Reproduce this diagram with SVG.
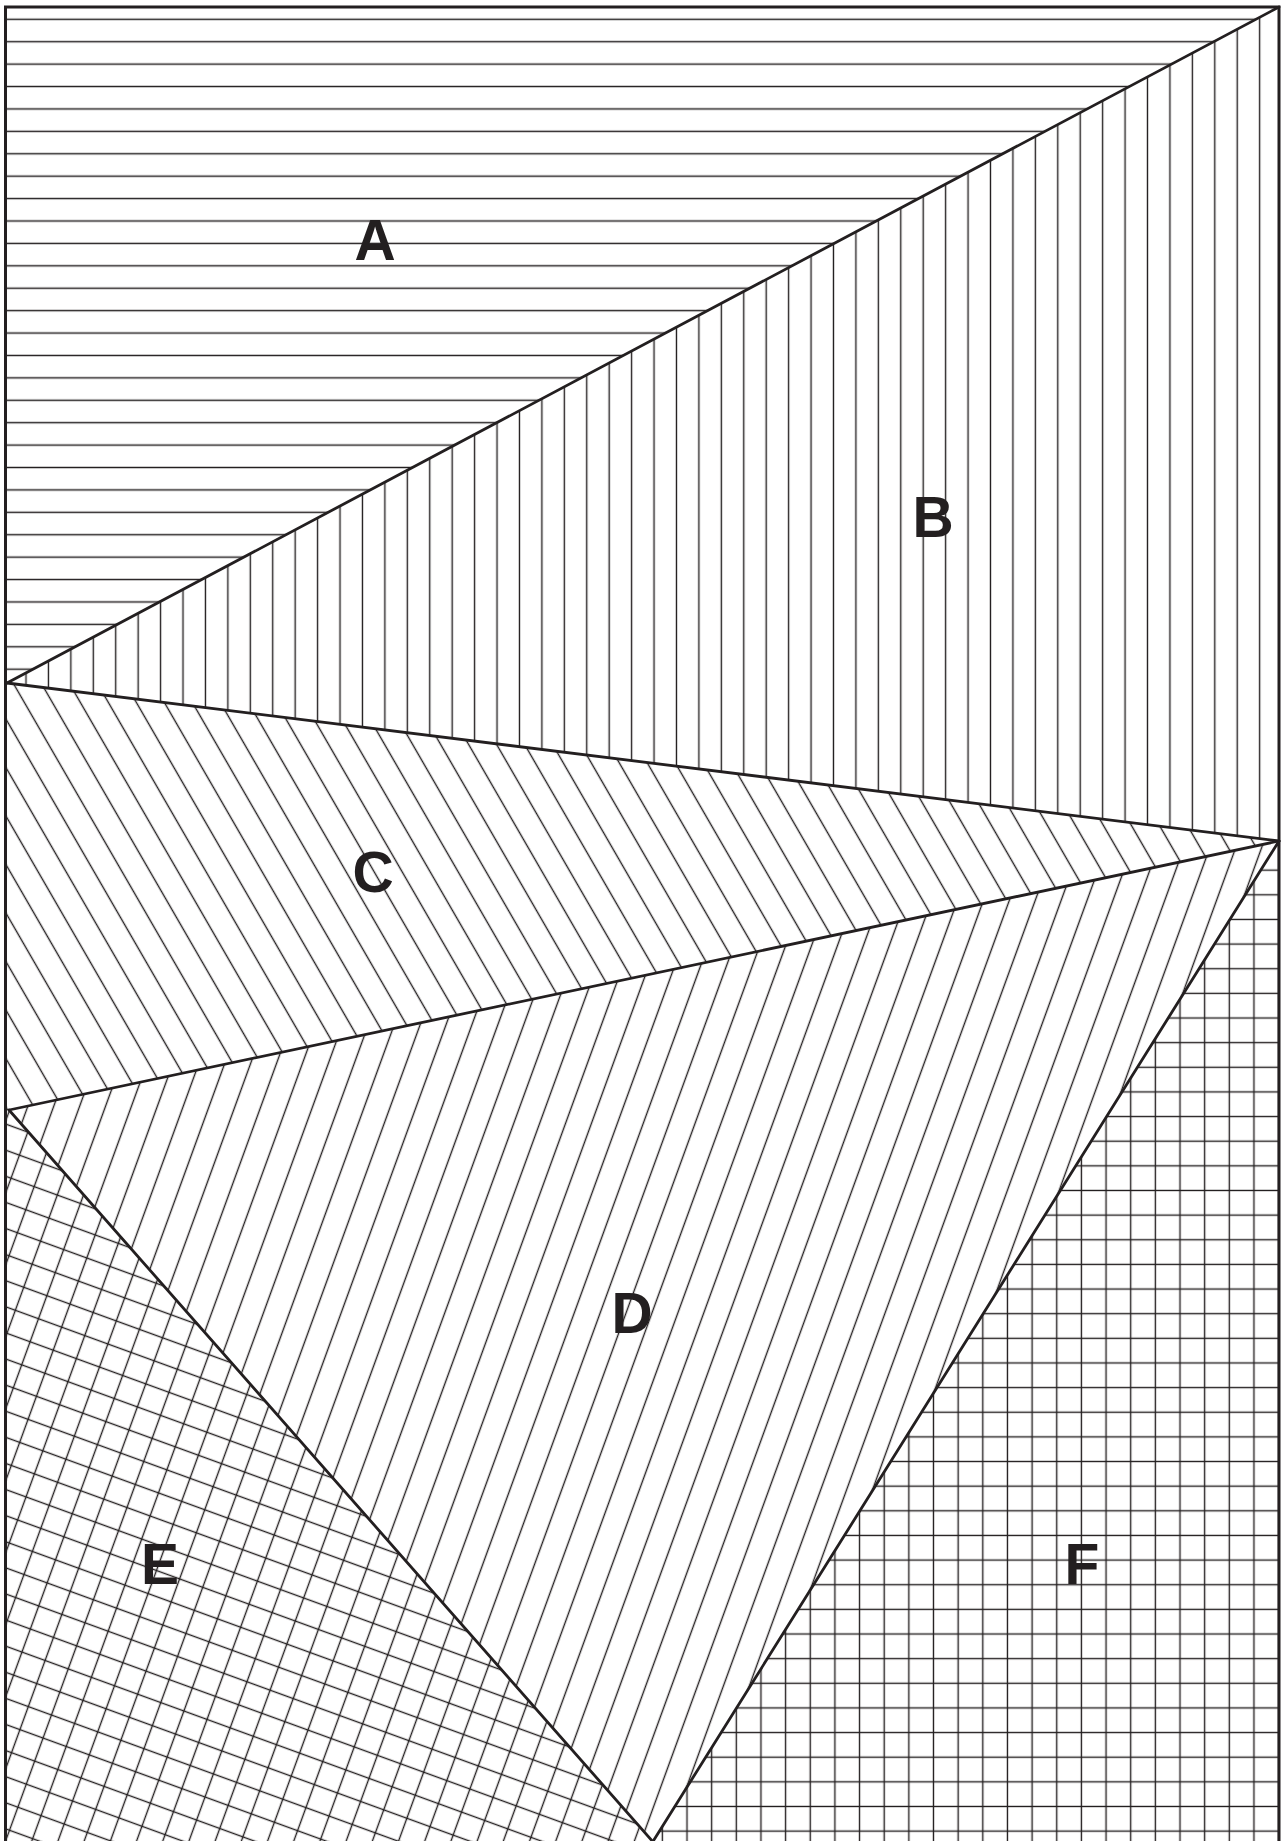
<svg xmlns="http://www.w3.org/2000/svg" width="1284" height="1841" viewBox="0 0 1284 1841">
<style>
.h{stroke:#231f20;stroke-width:1.4;fill:none}
.edge{stroke:#231f20;stroke-width:2.8;fill:none;stroke-linecap:round;stroke-linejoin:round}
.lbl{font-family:"Liberation Sans",Arial,sans-serif;font-weight:bold;font-size:57px;fill:#231f20;text-anchor:middle}
</style>
<defs>
<pattern id="pA" patternUnits="userSpaceOnUse" x="0" y="8.1" width="40" height="22.41"><line class="h" x1="-1" y1="11.2" x2="41" y2="11.2"/></pattern>
<pattern id="pB" patternUnits="userSpaceOnUse" x="14.8" y="0" width="22.43" height="40"><line class="h" x1="11.2" y1="-1" x2="11.2" y2="41"/></pattern>
<pattern id="pC" patternUnits="userSpaceOnUse" x="21.5" y="0" width="24.25" height="40" patternTransform="rotate(-30)"><line class="h" x1="12.12" y1="-1" x2="12.12" y2="41"/></pattern>
<pattern id="pD" patternUnits="userSpaceOnUse" x="2.9" y="0" width="24.34" height="40" patternTransform="rotate(20)"><line class="h" x1="12.17" y1="-1" x2="12.17" y2="41"/></pattern>
<pattern id="pE" patternUnits="userSpaceOnUse" x="7.1" y="11.8" width="24.62" height="24.53" patternTransform="rotate(20)"><line class="h" x1="12.31" y1="-1" x2="12.31" y2="25.6"/><line class="h" x1="-1" y1="12.26" x2="25.7" y2="12.26"/></pattern>
<pattern id="pF" patternUnits="userSpaceOnUse" x="9.15" y="20.1" width="24.65" height="24.64"><line class="h" x1="12.3" y1="-1" x2="12.3" y2="25.7"/><line class="h" x1="-1" y1="12.3" x2="25.7" y2="12.3"/></pattern>
</defs>
<rect x="0" y="0" width="1284" height="1841" fill="#ffffff"/>
<g id="A"><polygon points="6,7 1279,7 7,683" fill="url(#pA)"/><text class="lbl" x="375" y="260">A</text></g>
<g id="B"><polygon points="1279,7 1279,841 7,683" fill="url(#pB)"/><text class="lbl" x="933" y="537">B</text></g>
<g id="C"><polygon points="6,683 1279,841 9,1110 6,1110" fill="url(#pC)"/><text class="lbl" x="373" y="892">C</text></g>
<g id="D"><polygon points="9,1110 1279,841 653,1841" fill="url(#pD)"/><text class="lbl" x="632" y="1333">D</text></g>
<g id="E"><polygon points="6,1110 9,1110 653,1841 6,1841" fill="url(#pE)"/><text class="lbl" x="160" y="1584">E</text></g>
<g id="F"><polygon points="1279,841 1279,1841 653,1841" fill="url(#pF)"/><text class="lbl" x="1082" y="1584">F</text></g>
<g id="connectors">
<line class="edge" x1="7" y1="683" x2="1279" y2="7"/>
<line class="edge" x1="7" y1="683" x2="1279" y2="841"/>
<line class="edge" x1="9" y1="1110" x2="1279" y2="841"/>
<line class="edge" x1="9" y1="1110" x2="654" y2="1843"/>
<line class="edge" x1="1279" y1="841" x2="652" y2="1843"/>
<path d="M5.5,1845 V7 H1279 V1845" fill="none" stroke="#231f20" stroke-width="3"/>
</g>
</svg>
